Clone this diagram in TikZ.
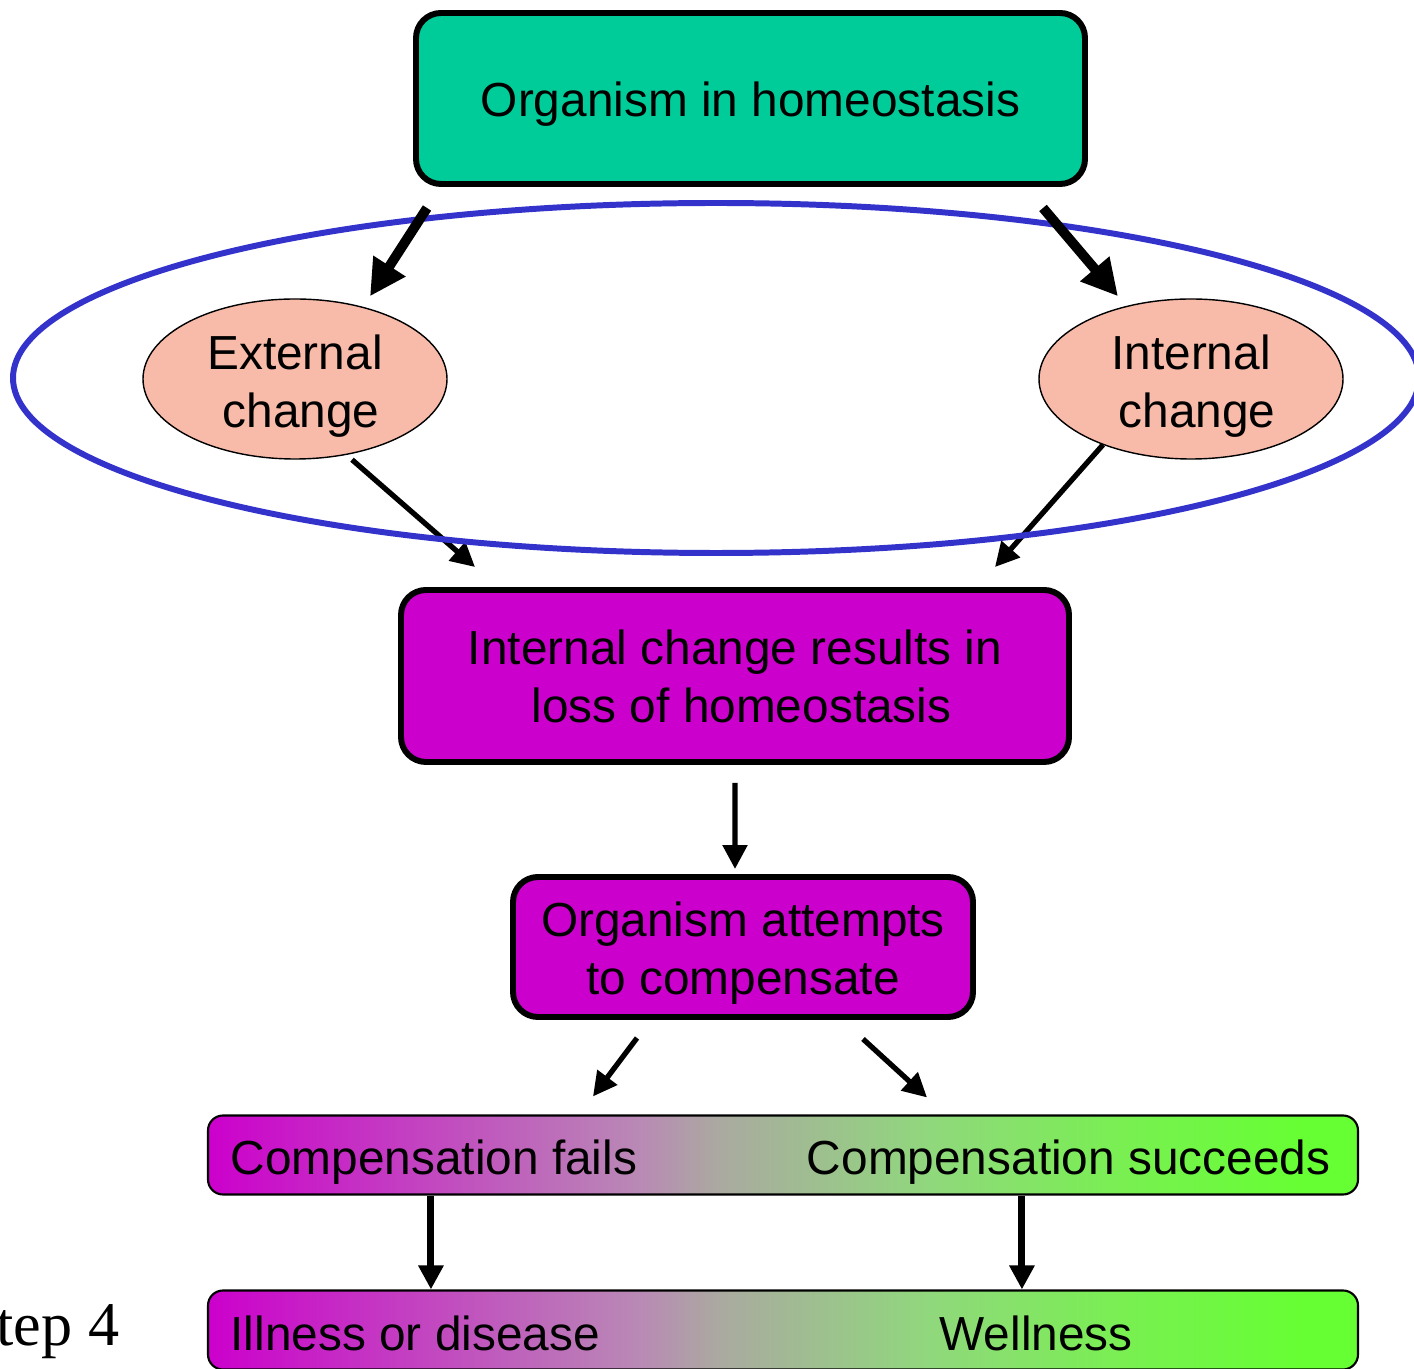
\documentclass[tikz,border=0pt]{standalone}
\usepackage{fontspec}
\setmainfont{Liberation Sans}
\newfontfamily\stepfont{Liberation Serif}
\usetikzlibrary{shapes.geometric,arrows.meta}
\definecolor{homeogreen}{RGB}{0,204,153}
\definecolor{changepink}{RGB}{248,187,170}
\definecolor{lossmagenta}{RGB}{204,0,204}
\definecolor{ringblue}{RGB}{51,51,204}
\definecolor{wellgreen}{RGB}{102,255,51}
\definecolor{lilac}{RGB}{185,138,181}
\definecolor{midgrey}{RGB}{170,170,160}
\definecolor{sage}{RGB}{144,216,124}
\definecolor{lightlime}{RGB}{120,240,80}
\pgfdeclarehorizontalshading{compshade}{100bp}{color(0bp)=(lossmagenta); color(25bp)=(lossmagenta);
    color(43.8bp)=(lilac); color(47.3bp)=(midgrey); color(56.4bp)=(sage); color(65.1bp)=(lightlime);
    color(72.7bp)=(wellgreen); color(100bp)=(wellgreen)}
\begin{document}
\begin{tikzpicture}[
        txt/.style={font=\fontsize{13.6}{16.5}\selectfont, inner sep=0, align=center},
        bigbox/.style={draw, line width=1.7pt, rounded corners=0.25cm, inner sep=0},
        changeoval/.style={ellipse, draw, fill=changepink, minimum width=3.04cm, minimum height=1.6cm, inner sep=0},
        resultbar/.style={draw, line width=0.6pt, rounded corners=0.15cm, minimum width=11.5cm, minimum height=0.79cm, shading=compshade},
        fatarrow/.style={line width=2.8pt, -{Triangle[length=0.36cm,width=0.36cm]}},
        thinarrow/.style={line width=1.5pt, -{Triangle[length=0.24cm,width=0.24cm]}}
    ]
                \useasboundingbox (0,0) rectangle (14.14,-13.69);
                \node[bigbox, fill=homeogreen, minimum width=6.69cm, minimum height=1.71cm] (homeo) at (7.505,-0.985) {};
                \node[changeoval] (ext) at (2.95,-3.79) {};
                \node[changeoval] (int) at (11.91,-3.79) {};
                \node[bigbox, fill=lossmagenta, minimum width=6.68cm, minimum height=1.72cm] (loss) at (7.35,-6.76) {};
                \node[bigbox, fill=lossmagenta, minimum width=4.6cm, minimum height=1.40cm] (attempt) at (7.43,-9.47) {};
                \node[resultbar] (comp) at (7.83,-11.55) {};
                \node[resultbar] (outcome) at (7.83,-13.30) {};
                \node[txt] (homeotext) at ([yshift=-0.06cm]homeo.center) {Organism in homeostasis};
                \node[txt] (exttext) at ([yshift=-0.07cm]ext.center) {External\\\hspace{0.12cm}change};
                \node[txt] (inttext) at ([yshift=-0.07cm]int.center) {Internal\\\hspace{0.12cm}change};
                \node[txt] (losstext) at (loss.center) {Internal change results in\\\hspace{0.13cm}loss of homeostasis};
                \node[txt] (attempttext) at ([yshift=-0.06cm]attempt.center) {Organism attempts\\to compensate};
                \node[txt, anchor=base west] (fails) at ([xshift=0.23cm,yshift=-0.19cm]comp.west) {Compensation fails};
                \node[txt, anchor=base east] (succeeds) at ([xshift=-0.28cm,yshift=-0.19cm]comp.east) {Compensation succeeds};
                \node[txt, anchor=base west] (illness) at ([xshift=0.23cm,yshift=-0.20cm]outcome.west) {Illness or disease};
                \node[txt, anchor=base west] (wellness) at ([xshift=7.32cm,yshift=-0.20cm]outcome.west) {Wellness};
                \node[anchor=base east, inner sep=0, font=\stepfont\fontsize{17.7}{20}\selectfont] (step) at (1.2,-13.45) {Step 4};
                \draw[thinarrow] ([xshift=0.57cm]ext.south) -- ([xshift=0.77cm,yshift=0.2cm]loss.north west);
                \draw[thinarrow] ([xshift=-0.88cm,yshift=0.15cm]int.south) -- ([xshift=-0.77cm,yshift=0.2cm]loss.north east);
                \node[ellipse, draw=ringblue, line width=1.7pt, minimum width=14.06cm, minimum height=3.5cm] (ring) at (7.16,-3.78) {};
                \draw[fatarrow] ([xshift=0.14cm,yshift=-0.21cm]homeo.south west) -- ([xshift=0.75cm,yshift=0.02cm]ext.north);
                \draw[fatarrow] ([xshift=-0.45cm,yshift=-0.21cm]homeo.south east) -- ([xshift=-0.73cm,yshift=0.02cm]int.north);
                \draw[thinarrow] ([yshift=-0.18cm]loss.south) -- ([xshift=-0.08cm,yshift=0.05cm]attempt.north);
                \draw[thinarrow] ([xshift=-1.06cm,yshift=-0.18cm]attempt.south) -- ([xshift=-1.9cm,yshift=0.18cm]comp.north);
                \draw[thinarrow] ([xshift=1.2cm,yshift=-0.19cm]attempt.south) -- ([xshift=1.44cm,yshift=0.17cm]comp.north);
                \draw[thinarrow, line width=2pt] ([xshift=2.24cm]comp.south west) -- ([xshift=2.24cm]outcome.north west);
                \draw[thinarrow, line width=2pt] ([xshift=8.15cm]comp.south west) -- ([xshift=8.15cm]outcome.north west);
            \end{tikzpicture}
\end{document}
